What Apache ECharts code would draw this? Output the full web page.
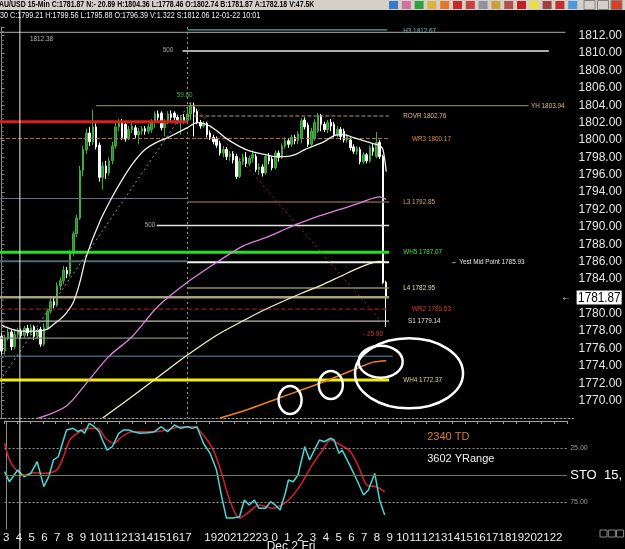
<!DOCTYPE html>
<html><head><meta charset="utf-8">
<script src="https://cdn.jsdelivr.net/npm/echarts/dist/echarts.min.js"></script>
<style>html,body{margin:0;padding:0;background:#000;overflow:hidden}#c{width:625px;height:549px}</style>
</head><body><div id="c"></div>
<script>
// ---------- DATA ----------
const day1Hours = [3,4,5,6,7,8,9,10,11,12,13,14,15,16,17,18,19,20,21,22,23];
const day2Hours = [0,1,2,3,4,5,6,7,8,9,10,11,12,13,14,15,16,17,18,19,20,21,22];
const hiddenHourLabels = ['D1 18'];

// 15-min candles [open, close, low, high], starting at slot 0 (Dec 1 03:00)
const candles = [
[1777.4,1775.7,1775.3,1777.8],[1775.7,1777.2,1775.3,1777.6],[1777.2,1777.9,1776.9,1778.3],[1777.9,1776.2,1775.8,1778.2],
[1776.2,1777.6,1775.9,1778.0],[1777.6,1778.0,1777.3,1778.4],[1778.0,1777.5,1777.1,1778.3],[1777.5,1778.3,1777.2,1778.6],
[1778.3,1777.8,1777.4,1778.7],[1777.8,1778.4,1777.5,1778.8],[1778.5,1777.4,1777.0,1778.7],[1777.4,1778.1,1777.1,1778.4],
[1778.2,1776.5,1776.2,1778.5],[1776.5,1778.4,1776.3,1778.9],[1778.4,1780.3,1778.2,1780.6],[1780.3,1781.4,1780.0,1781.8],
[1781.4,1781.0,1780.6,1781.9],[1781.0,1783.2,1780.8,1783.6],[1783.2,1783.8,1782.7,1784.2],[1783.8,1785.0,1783.4,1785.5],
[1785.0,1784.6,1784.1,1785.4],[1784.6,1787.0,1784.3,1787.3],[1787.0,1789.2,1786.6,1789.5],[1789.2,1791.0,1788.8,1791.4],
[1791.0,1796.5,1790.8,1797.0],[1796.5,1798.9,1795.8,1799.3],[1798.9,1800.8,1798.4,1801.3],[1800.8,1799.8,1799.3,1801.5],
[1799.8,1801.5,1799.4,1803.5],[1801.5,1799.2,1798.9,1801.9],[1799.4,1795.7,1795.2,1799.7],[1795.7,1797.0,1794.3,1797.5],
[1797.0,1796.2,1795.5,1797.6],[1796.2,1797.6,1795.9,1798.0],[1797.6,1799.3,1797.2,1799.8],[1799.3,1801.5,1799.0,1802.0],
[1801.5,1802.0,1801.0,1802.4],[1802.1,1800.3,1800.0,1802.4],[1801.8,1800.1,1799.8,1802.2],[1800.2,1801.2,1800.0,1801.6],
[1801.2,1801.6,1800.8,1802.0],[1801.4,1800.6,1800.2,1801.7],[1800.6,1801.0,1799.5,1801.4],[1801.0,1801.3,1800.6,1801.6],
[1801.3,1801.0,1800.6,1801.6],[1801.0,1801.5,1800.7,1801.9],[1801.2,1802.1,1800.8,1802.4],[1802.1,1803.0,1801.4,1803.3],
[1803.0,1802.6,1802.0,1803.4],[1803.1,1801.4,1801.1,1803.3],[1801.4,1802.1,1800.4,1802.4],[1802.1,1803.0,1801.8,1803.3],
[1803.0,1802.6,1802.2,1803.4],[1803.1,1802.6,1802.3,1803.3],[1802.6,1802.3,1801.9,1802.9],[1802.3,1802.6,1800.6,1802.9],
[1802.6,1802.2,1801.9,1803.0],[1802.2,1803.0,1801.9,1803.6],[1803.0,1804.0,1802.3,1804.36],[1804.0,1803.2,1800.4,1804.3],
[1803.3,1802.0,1801.8,1803.6],[1802.0,1801.6,1801.3,1802.3],[1801.6,1801.9,1801.4,1802.2],[1801.9,1800.6,1800.3,1802.1],
[1800.8,1800.3,1800.0,1801.1],[1800.3,1799.8,1799.5,1800.6],[1800.1,1799.4,1799.1,1800.4],[1799.6,1798.5,1798.2,1799.9],
[1798.5,1798.9,1798.0,1799.3],[1798.9,1798.1,1797.7,1799.2],[1798.1,1798.4,1797.6,1798.7],[1798.4,1797.7,1797.3,1798.7],
[1798.1,1795.8,1795.5,1798.4],[1795.8,1797.5,1795.6,1797.9],[1797.5,1798.0,1797.1,1798.4],[1798.0,1797.3,1796.9,1798.6],
[1797.3,1797.9,1797.0,1798.2],[1797.9,1798.3,1797.4,1798.8],[1798.1,1796.6,1796.3,1798.4],[1796.6,1796.9,1796.0,1797.3],
[1796.9,1796.2,1795.8,1797.2],[1796.2,1798.1,1796.0,1798.4],[1798.1,1797.6,1797.2,1798.5],[1797.8,1796.8,1796.5,1798.1],
[1796.8,1798.5,1796.6,1798.8],[1798.5,1798.0,1797.5,1798.8],[1798.0,1799.3,1797.8,1799.6],[1799.3,1799.9,1799.0,1800.3],
[1799.9,1799.5,1799.1,1800.2],[1799.5,1800.3,1799.2,1800.6],[1800.3,1799.9,1799.5,1800.6],[1799.9,1800.7,1799.5,1801.0],
[1800.2,1802.2,1799.6,1802.5],[1802.3,1801.5,1801.2,1802.6],[1801.7,1799.5,1799.2,1802.0],[1799.5,1801.0,1799.3,1801.4],
[1800.2,1802.0,1799.9,1802.4],[1801.0,1802.8,1800.8,1803.1],[1802.8,1801.8,1801.0,1803.0],[1801.8,1801.2,1800.9,1802.1],
[1801.2,1802.0,1800.8,1802.3],[1802.0,1801.6,1801.0,1802.4],[1801.8,1800.6,1800.3,1802.1],[1800.6,1801.2,1800.3,1801.6],
[1801.2,1800.4,1800.0,1801.5],[1801.0,1800.0,1799.7,1801.3],[1800.0,1800.4,1799.7,1800.7],[1800.0,1799.1,1798.8,1800.3],
[1799.2,1798.7,1798.4,1799.5],[1798.7,1799.0,1798.3,1799.3],[1798.9,1797.5,1797.2,1799.2],[1797.5,1798.3,1797.2,1798.6],
[1798.3,1797.6,1797.3,1798.5],[1797.6,1799.1,1797.4,1799.4],[1799.1,1798.7,1798.2,1799.6],[1798.1,1799.7,1797.9,1800.9],
[1799.7,1798.1,1797.8,1800.0],[1798.1,1783.6,1783.4,1798.3],[1783.6,1781.87,1778.46,1783.8]
];
const lastPrice = 1781.87;

// moving averages [slot, price]
const whiteMA = [[0,1778.68],[3,1778.22],[6,1777.99],[11,1777.99],[14,1778.22],[16,1778.8],[19,1779.72],[22,1781.33],[24,1783.62],[26,1786.6],[30,1790.51],[34,1793.49],[37,1795.44],[40,1797.17],[44,1798.89],[48,1799.81],[51,1800.27],[54,1800.84],[57,1801.41],[60,1801.99],[63,1801.76],[66,1801.07],[69,1800.15],[72,1799.46],[75,1798.89],[78,1798.54],[81,1798.31],[84,1798.08],[87,1798.08],[90,1798.31],[93,1798.89],[96,1799.35],[99,1799.81],[102,1800.5],[105,1800.61],[108,1800.27],[111,1799.92],[114,1799.58],[116,1799.35],[117,1798.89],[118,1796.36]];
const magentaMA = [[11,1767.95],[20,1769.42],[27,1772.48],[33,1775.12],[40,1777.36],[48,1780.86],[57,1783.62],[66,1785.92],[74,1787.79],[81,1788.75],[89,1790.05],[97,1791.2],[104,1792.03],[110,1792.77],[116,1793.46],[118,1793.15]];
const creamMA = [[31,1767.99],[39,1770.19],[48,1772.71],[57,1775.24],[66,1777.53],[75,1779.37],[81,1780.52],[92,1782.36],[98,1783.27],[104,1784.31],[110,1785.34],[116,1786.03],[118,1785.92]];
const orangeMA = [[67,1767.99],[76,1769.04],[86,1770.42],[97,1771.91],[104,1772.94],[110,1773.86],[114,1774.43],[118,1774.6]];

// trend lines [slot, price]
const trendUp = [[-0.5,1772.3],[58,1804.36]];
const trendDown = [[58,1804.36],[118,1778.46]];

// horizontal levels
const levelNames  = ['base','H3','500a','YH','redL','ROVR','WR3','grayL','L3','500b','WH5','tealL','YMid','L4','tanL','WR2','S1','grayL2','tealL2','WH4'];
const levelPrices = [1812.38,1812.67,1810.25,1803.94,1802.1,1802.76,1800.17,1793.26,1792.85,1790.16,1787.07,1786.03,1785.93,1782.95,1781.9,1780.53,1779.14,1777.2,1775.1,1772.37];
const levelFrom   = [-0.5,57,55.5,28.9,-0.5,57,-0.5,-0.5,57,47.6,-0.5,-0.5,57,57,-0.5,-0.5,-0.5,-0.5,-0.5,-0.5];
const levelTo     = [173,118.3,167.9,161.7,57,118.9,118.9,57,118.9,118.9,118.9,57,118.9,118.9,118.9,118.9,118.9,57,120,118.9];

// annotations text (slot, price)
const noteText  = ['1812.38','H3 1812.67','500','59.60','YH 1803.94','ROVR 1802.76','WR3 1800.17','L3 1792.85','500','WH5 1787.07','\u2190 Yest Mid Point 1785.93','L4 1782.95','WR2 1780.53','S1 1779.14','- 25.90','WH4 1772.37'];
const noteSlot  = [8.7,123.2,49.4,53.7,162.4,123.2,125.9,123.2,43.9,123.2,137.9,123.2,125.9,124.7,110.9,123.2];
const notePrice = [1811.62,1812.54,1810.35,1805.17,1803.94,1802.76,1800.17,1792.85,1790.21,1787.07,1785.93,1782.95,1780.53,1779.14,1777.67,1772.37];

// circled annotations (slot, price)
const circleSlot  = [88.5,101.0,116.3,125.0];
const circlePrice = [1770.07,1771.8,1774.48,1773.14];

// stochastic [slot, value]
const stoK = [[-0.5,46.9],[1,56.2],[3.6,45.4],[5.6,51.6],[7.7,48.4],[9.7,37.7],[11.8,60.8],[13.3,51.6],[14.8,36.1],[16.3,33.1],[17.9,17.6],[18.9,8.3],[20.9,6.8],[22.5,9.9],[23.5,8.3],[24.5,11.4],[26,2.1],[27.6,5.3],[29.1,9.9],[30.1,17.6],[31.6,26.9],[33.2,23.8],[35.2,11.4],[36.8,8.3],[38.3,8.3],[39.8,9.9],[41.8,11.4],[44.4,10.8],[46.4,9.9],[48.5,5.3],[50.5,9.9],[52.6,3.7],[54.6,6.8],[56.7,5.3],[58.2,6.8],[59.7,5.3],[61.7,20.6],[63.8,29.9],[65.8,45.4],[67.4,70.1],[68.9,89.9],[70.9,89.9],[73,88.6],[74.5,73.1],[76,77.8],[77.6,73.1],[79.1,80.8],[81.1,80.8],[82.7,74.7],[84.2,77.8],[85.7,82.4],[87.3,66.9],[88.3,54.6],[89.8,56.2],[91.3,50.0],[93.4,23.8],[94.9,36.1],[96.4,26.9],[98,17.6],[99.5,19.2],[101.5,16.0],[102.6,17.6],[104.1,29.9],[105.1,26.9],[107.7,42.3],[109.7,54.6],[111.8,68.5],[113.3,63.9],[115.3,48.4],[116.8,73.1],[118.4,87.0]];
const stoD = [[-0.5,20.6],[1.6,39.2],[5.6,50.0],[8.7,47.9],[11.8,48.4],[15.8,45.4],[17.9,33.1],[19.9,17.6],[23,9.9],[26,6.8],[28.6,6.8],[31.1,16.0],[33.7,20.6],[36.2,14.5],[39.3,9.9],[42.4,9.9],[46.4,9.9],[50.5,8.3],[54.6,5.3],[58.7,5.3],[61.7,13.0],[64.8,26.9],[67.4,48.4],[69.9,73.1],[73,89.9],[76,84.0],[79.1,77.8],[83.2,80.8],[86.2,77.8],[89.3,70.1],[92.4,57.7],[95.4,42.3],[99,26.9],[101.5,17.6],[104.6,22.2],[107.7,28.4],[110.7,45.4],[112.8,59.3],[115.8,60.8],[118.4,65.5]];
const stoLevels = [25,50,75];

const titleText = 'AU/USD 15-Min C:1781.87 N:- 20.89 H:1804.36 L:1778.46 O:1802.74 B:1781.87 A:1782.18 V:47.5K';
const infoText = '30 C:1799.21 H:1799.56 L:1795.88 O:1796.39 V:1.322 S:1812.06 12-01-22 10:01';
const oscNotes = ['2340 TD','3602 YRange'];
const oscNoteSlot = [131.7,131.7];
const oscNoteVal = [14.8,35.2];
const dayLabel = 'Dec 2 Fri';

// ---------- STYLES ----------
const SANS = "'Liberation Sans',Arial,sans-serif";
const levelStyle = {
  base:['#8c8c8c',1.2,'solid'], H3:['#5aa6a6',1.2,'solid'], '500a':['#e6e6e6',1.5,'solid'],
  YH:['#a89460',1,'solid'], redL:['#d81e1e',3,'solid'], ROVR:['#b89870',1,'dashed'],
  WR3:['#b07040',1,'dashed'], grayL:['#6a6a8a',1.2,'solid'], L3:['#7a5a48',1.5,'solid'],
  '500b':['#e0e0e0',1.5,'solid'], WH5:['#22e022',3,'solid'], tealL:['#4e6a72',2,'solid'],
  YMid:['#f2f2f2',2,'solid'], L4:['#8e8e60',1.5,'solid'], tanL:['#a8a07c',2.5,'solid'],
  WR2:['#8a1c1c',1.2,'dashed'], S1:['#bdbdbd',1.2,'solid'], grayL2:['#8a8a80',1.2,'solid'],
  tealL2:['#3a6070',1.5,'solid'], WH4:['#f0f000',3,'solid']
};
const noteColor = ['#b8b8b8','#78b8b8','#a8a8a8','#48b048','#d8c070','#e0b888','#e08848','#d8a878','#a8a8a8','#48e048','#e8e8e8','#e0e0b8','#e03838','#e0e0e0','#d83838','#d8d890'];

// ---------- BUILD ----------
const slots = [];
day1Hours.forEach(h => ['00','15','30','45'].forEach(m => slots.push('D1 ' + String(h).padStart(2,'0') + ':' + m)));
day2Hours.forEach(h => ['00','15','30','45'].forEach(m => slots.push('D2 ' + String(h).padStart(2,'0') + ':' + m)));
const N = slots.length;

const chart = echarts.init(document.getElementById('c'));

const series = [];
levelNames.forEach((n, i) => {
  const s = levelStyle[n];
  series.push({type:'line', name:n, xAxisIndex:1, yAxisIndex:0, silent:true, symbol:'none',
    data:[[levelFrom[i], levelPrices[i]], [levelTo[i], levelPrices[i]]],
    lineStyle:{color:s[0], width:s[1], type:s[2]}});
});
series.push({type:'line', xAxisIndex:1, yAxisIndex:0, symbol:'none', silent:true, data:trendUp,
  lineStyle:{color:'#8a9a88', width:1, type:[2,3]}});
series.push({type:'line', xAxisIndex:1, yAxisIndex:0, symbol:'none', silent:true, data:trendDown,
  lineStyle:{color:'#a03030', width:1, type:[2,3]}});
series.push({type:'candlestick', xAxisIndex:0, yAxisIndex:0, data:candles, barWidth:2,
  itemStyle:{color:'#2a8a2a', color0:'#f4f4f4', borderColor:'#3fae3f', borderColor0:'#ffffff', borderWidth:1}});
const maDefs = [[whiteMA,'#f0f0f0',1.3],[magentaMA,'#e080e0',1.3],[creamMA,'#f4f0b8',1.3],[orangeMA,'#f08020',1.5]];
maDefs.forEach(d => series.push({type:'line', xAxisIndex:1, yAxisIndex:0, symbol:'none', silent:true, smooth:0.3,
  data:d[0], lineStyle:{color:d[1], width:d[2]}}));
series.push({type:'line', xAxisIndex:3, yAxisIndex:1, symbol:'none', silent:true, data:stoD, smooth:0.3,
  lineStyle:{color:'#d01c2c', width:1.6}});
series.push({type:'line', xAxisIndex:3, yAxisIndex:1, symbol:'none', silent:true, data:stoK,
  lineStyle:{color:'#48d8d8', width:1.5},
  markLine:{silent:true, symbol:'none', animation:false, label:{show:false},
    data: stoLevels.map(v => ({yAxis:v, lineStyle: v===50 ? {color:'#6c7e3a', width:1, type:'solid'} : {color:'#9a9a9a', width:1, type:[2,2]}}))}});

const option = {
  backgroundColor:'#000',
  animation:false,
  grid:[{left:0, top:27, width:575, height:391},{left:0, top:421, width:575, height:108}],
  xAxis:[
    {type:'category', gridIndex:0, data:slots, boundaryGap:true,
      axisLine:{show:true, lineStyle:{color:'#9a9a9a', type:[2,2]}}, axisTick:{show:false}, axisLabel:{show:false}, splitLine:{show:false}},
    {type:'value', gridIndex:0, min:-0.5, max:N-0.5, show:false},
    {type:'category', gridIndex:1, data:slots, boundaryGap:true,
      axisLine:{show:true, lineStyle:{color:'#a0a0a0'}},
      axisTick:{show:true, interval:(i)=>i%4===0, length:3, lineStyle:{color:'#a0a0a0'}},
      axisLabel:{interval:(i)=>i%4===0, hideOverlap:false, margin:3, color:'#ececec', fontSize:11.5, fontFamily:SANS,
        formatter:(v)=> hiddenHourLabels.includes(v.slice(0,5)) ? '' : String(parseInt(v.slice(3,5),10))},
      splitLine:{show:false}},
    {type:'value', gridIndex:1, min:-0.5, max:N-0.5, show:false}
  ],
  yAxis:[
    {type:'value', gridIndex:0, position:'right', min:1768, max:1813, interval:2,
      axisLine:{show:true, lineStyle:{color:'#8a8a8a'}},
      axisTick:{show:true, length:3, lineStyle:{color:'#8a8a8a'}},
      minorTick:{show:true, splitNumber:4, length:2, lineStyle:{color:'#6a6a6a'}},
      axisLabel:{showMinLabel:false, showMaxLabel:false, formatter:(v)=>v.toFixed(2), color:'#e6e6e6', fontSize:12, fontFamily:SANS, margin:5},
      splitLine:{show:false}},
    {type:'value', gridIndex:1, position:'right', min:0, max:100, interval:25, inverse:true,
      axisLine:{show:true, lineStyle:{color:'#8a8a8a'}}, axisTick:{show:false},
      axisLabel:{showMinLabel:false, showMaxLabel:false, margin:3, color:'#9a9a9a', fontSize:7, fontFamily:SANS,
        formatter:(v)=> v===25 ? '25.00' : v===75 ? '75.00' : v===50 ? '{b|STO  15,}' : '',
        rich:{b:{fontSize:13, color:'#ffffff', fontFamily:SANS}}},
      splitLine:{show:false}}
  ],
  series
};
chart.setOption(option);

// ---------- ANNOTATIONS ----------
const P = (s, p) => chart.convertToPixel({xAxisIndex:1, yAxisIndex:0}, [s, p]);
const O = (s, v) => chart.convertToPixel({xAxisIndex:3, yAxisIndex:1}, [s, v]);
const g = [];
// window title bar
g.push({type:'rect', shape:{x:0, y:0, width:625, height:10}, style:{fill:'#d4d0c8'}, z:10});
g.push({type:'text', x:-1, y:5, scaleX:0.82, style:{text:titleText, fill:'#000', font:'bold 8.5px ' + SANS, verticalAlign:'middle'}, z:11});
const iconColors = ['#3a78c8','#d070a0','#30a040','#e0b040','#e07830','#c82828','#c84040','#9090a0','#c8a040','#b05050','#c02020','#e8e040','#a04040','#c03030','#4a98e0'];
iconColors.forEach((c, k) => g.push({type:'rect', shape:{x:389 + k*12.8, y:1, width:9, height:8}, style:{fill:c}, z:11}));
['#d4d0c8','#d4d0c8','#d84020'].forEach((c, k) => g.push({type:'rect', shape:{x:584 + k*13.5, y:0.5, width:11, height:9}, style:{fill:c, stroke:'#808080', lineWidth:1}, z:11}));
g.push({type:'text', x:0, y:15.5, scaleX:0.8, style:{text:infoText, fill:'#f0f0f0', font:'9px ' + SANS, verticalAlign:'middle'}, z:11});
// cursor line and day separator
const xc = P(5.6, 1790)[0];
g.push({type:'line', shape:{x1:xc, y1:10, x2:xc, y2:549}, style:{stroke:'#e8e8e8', lineWidth:1}, z:5});
const xd = P(57.05, 1790)[0];
g.push({type:'line', shape:{x1:xd, y1:27, x2:xd, y2:418}, style:{stroke:'#9a9a9a', lineWidth:1, lineDash:[2,3]}, z:1});
// level notes
noteText.forEach((t, i) => {
  const p = P(noteSlot[i], notePrice[i]);
  g.push({type:'text', x:p[0], y:p[1], scaleX:0.85, style:{text:t, fill:noteColor[i], font:'7.5px ' + SANS, verticalAlign:'middle'}, z:6});
});
// current price marker
const pl = P(N - 0.5, lastPrice);
g.push({type:'rect', shape:{x:pl[0] + 3, y:pl[1] - 7, width:45, height:14}, style:{fill:'#ffffff'}, z:8});
g.push({type:'text', x:pl[0] + 4.5, y:pl[1] + 0.5, scaleX:0.84, style:{text:lastPrice.toFixed(2), fill:'#000', font:'14px ' + SANS, verticalAlign:'middle'}, z:9});
const pa = P(171.6, lastPrice);
g.push({type:'text', x:pa[0], y:pa[1], style:{text:'\u2190', fill:'#ffffff', font:'10px ' + SANS, verticalAlign:'middle'}, z:6});
// circles
const radii = [[11.5,14],[12,14],[22,16],[54,35]];
circleSlot.forEach((s, i) => {
  const p = P(s, circlePrice[i]);
  g.push({type:'ellipse', shape:{cx:p[0], cy:p[1], rx:radii[i][0], ry:radii[i][1]}, style:{fill:'none', stroke:'#ffffff', lineWidth:2.5}, z:7});
});
// oscillator notes
oscNotes.forEach((t, i) => {
  const p = O(oscNoteSlot[i], oscNoteVal[i]);
  g.push({type:'text', x:p[0], y:p[1], style:{text:t, fill: i===0 ? '#e07830' : '#f0f0f0', font:'11px ' + SANS, verticalAlign:'middle'}, z:6});
});
// day label
const pd = O(84, 50);
g.push({type:'text', x:pd[0] - 8, y:541, style:{text:dayLabel, fill:'#ececec', font:'12px ' + SANS, verticalAlign:'top'}, z:6});
// corner boxes
[0,1,2].forEach(k => g.push({type:'rect', shape:{x:600 + k*8.3, y:530, width:7, height:7}, style:{fill:'none', stroke:'#888', lineWidth:1}, z:6}));
chart.setOption({graphic:g});
</script>
</body></html>
